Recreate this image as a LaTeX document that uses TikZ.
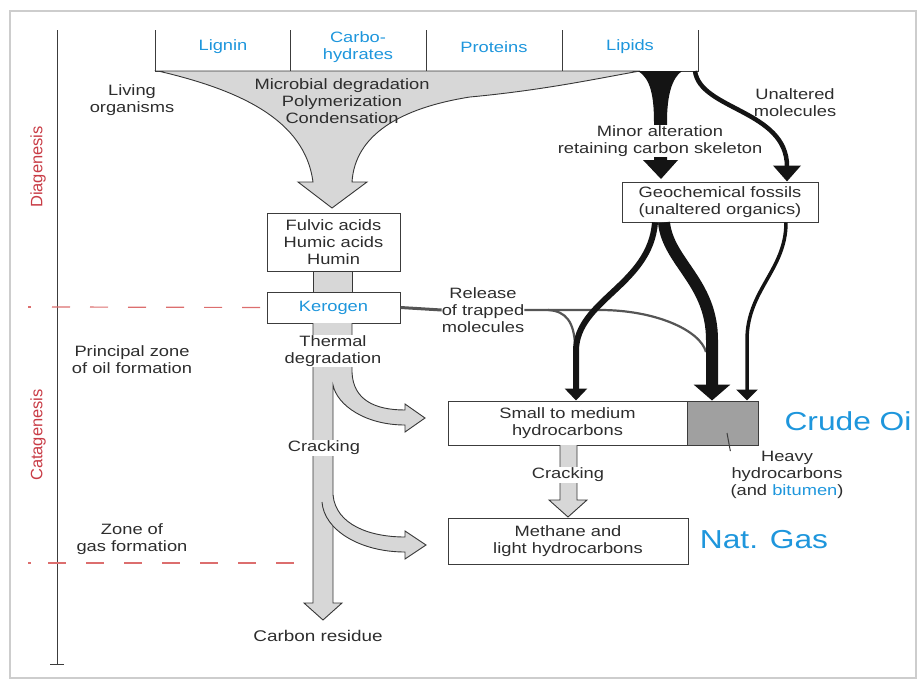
\documentclass[tikz,border=0pt]{standalone}
\usepackage{fontspec}
\setmainfont{Liberation Sans}[FakeStretch=1.22]
\newfontfamily\rotfont{Liberation Sans}
\usetikzlibrary{arrows.meta,calc}
\definecolor{myblue}{RGB}{30,150,220}
\definecolor{myred}{RGB}{200,60,70}
\definecolor{dashred}{RGB}{220,110,110}
\definecolor{txtgray}{RGB}{45,45,45}
\definecolor{boxgray}{RGB}{60,60,60}
\definecolor{shaftgray}{RGB}{215,215,215}
\definecolor{outgray}{RGB}{55,55,55}
\definecolor{relgray}{RGB}{85,85,85}
\definecolor{heavygray}{RGB}{160,160,160}
\definecolor{framegray}{RGB}{205,205,205}
\begin{document}
\begin{tikzpicture}[x=1pt,y=-1pt,
  txt/.style={font=\fontsize{15}{17}\selectfont, text=txtgray, align=center, inner sep=0pt},
  bluetxt/.style={font=\fontsize{15}{17}\selectfont, text=myblue, align=center, inner sep=0pt},
  bigblue/.style={font=\fontsize{26}{30}\selectfont, text=myblue, inner sep=0pt},
  box/.style={draw=boxgray, line width=1pt, fill=white, inner sep=0pt, align=center, font=\fontsize{15}{17}\selectfont, text=txtgray},
  wtxt/.style={txt, fill=white, inner sep=1pt},
  gfill/.style={fill=shaftgray},
  gline/.style={draw=outgray, line width=0.9pt, line join=miter},
  rotlab/.style={rotate=90, font=\rotfont\fontsize{16.5}{18}\selectfont, text=myred, inner sep=0pt},
  redash/.style={draw=dashred, line width=1.2pt, dash pattern=on 18pt off 20pt},
  blk/.style={draw=black!92, line cap=butt},
]
\useasboundingbox (0,0) rectangle (919,680);
% frame
\draw[framegray, line width=1.3pt] (10,11) rectangle (916,678);

% axis
\draw[boxgray, line width=1pt, -{Bar[width=14pt]}] (57,30) -- (57,665);
\node[rotlab] (dia) at (38,167) {Diagenesis};
\node[rotlab] (cata) at (38,435) {Catagenesis};

% top table
\draw[boxgray, line width=1pt] (155,30) -- (155,71) -- (698,71) -- (698,30);
\draw[boxgray, line width=1pt] (290,30) -- (290,71) (426,30) -- (426,71) (562,30) -- (562,71);
\node[bluetxt] (lignin) at (223,47) {Lignin};
\node[bluetxt] (carbo) at (358,47) {Carbo-\\hydrates};
\node[bluetxt] (prot) at (494,47) {Proteins};
\node[bluetxt] (lipids) at (630,47) {Lipids};

% gray funnel
\filldraw[gfill, gline] (158,71) .. controls (240,90) and (305,120) .. (313,182) -- (298,182) -- (332,208) -- (367,182) -- (352,182) .. controls (355,135) and (400,108) .. (470,97) .. controls (545,90) and (600,78) .. (640,71) -- cycle;
\node[txt] (micro) at (342,101) {Microbial degradation\\Polymerization\\Condensation};
\node[txt] (living) at (132,100) {Living\\organisms};

% boxes left column
\node[box, minimum width=133pt, minimum height=58pt] (fulvic) at (333.5,242) {Fulvic acids\\Humic acids\\Humin};
\filldraw[gfill, gline] (313,271) rectangle (352,292);
\node[box, minimum width=133pt, minimum height=31pt, text=myblue] (kerogen) at (333.5,307.5) {Kerogen};

% lower shaft with first branch
\fill[gfill] (313,323) -- (352,323) -- (352,372) .. controls (353,400) and (375,410) .. (405,410) -- (405,404) -- (425,418) -- (405,432) -- (405,425) .. controls (365,425) and (337,405) .. (333,385) -- (333,603) -- (342,603) -- (323,620) -- (304,603) -- (313,603) -- cycle;
\draw[gline] (352,323) -- (352,372) .. controls (353,400) and (375,410) .. (405,410) -- (405,404) -- (425,418) -- (405,432) -- (405,425) .. controls (365,425) and (337,405) .. (333,385) -- (333,603) -- (342,603) -- (323,620) -- (304,603) -- (313,603) -- (313,323);
% second branch
\fill[gfill] (333,495) .. controls (336,525) and (370,537) .. (405,537) -- (405,531) -- (426,545) -- (405,559) -- (405,552) .. controls (360,552) and (324,530) .. (322,502) -- cycle;
\draw[gline] (333,495) .. controls (336,525) and (370,537) .. (405,537) -- (405,531) -- (426,545) -- (405,559) -- (405,552) .. controls (360,552) and (324,530) .. (322,502);

\node[wtxt] (thermal) at (333,351) {Thermal\\degradation};
\node[wtxt] (crack1) at (324,448) {Cracking};
\node[txt, font=\fontsize{15.5}{17}\selectfont] (carbres) at (318,636) {Carbon residue};

% zone labels
\node[txt] (oilzone) at (132,360) {Principal zone\\of oil formation};
\node[txt] (gaszone) at (132,539) {Zone of\\gas formation};
\draw[redash] (52,307) -- (kerogen.west);
\draw[dashred, line width=1.2pt] (28,307) -- (31,307);
\draw[redash] (48,563) -- (300,563);
\draw[dashred, line width=1.2pt] (28,563) -- (31,563);

% right boxes
\node[box, minimum width=196pt, minimum height=40pt] (geo) at (720,202) {Geochemical fossils\\(unaltered organics)};
\node[box, minimum width=239pt, minimum height=44pt] (small) at (567.5,423) {Small to medium\\hydrocarbons};
\node[box, minimum width=71pt, minimum height=44pt, fill=heavygray] (heavy) at (722.5,423) {};
\node[box, minimum width=240pt, minimum height=46pt] (methane) at (568,541) {Methane and\\light hydrocarbons};

% cracking arrow between small and methane
\filldraw[gfill, gline] (560,445) -- (560,500) -- (549,500) -- (568,517) -- (587,500) -- (577,500) -- (577,445);
\node[wtxt] (crack2) at (568,475) {Cracking};

\node[bigblue] (crude) at (848,421) {Crude Oi};
\node[bigblue] (natgas) at (764,540) {Nat. Gas};
\node[txt] (heavylab) at (787,475) {Heavy\\hydrocarbons\\(and \textcolor{myblue}{bitumen})};
\draw[boxgray, line width=1pt] (727,433) -- (heavylab.north west);

% release of trapped molecules
\node[txt] (release) at (483,310) {Release\\of trapped\\molecules};
\draw[relgray, line width=3pt] (kerogen.east) -- (release.west);
\coordinate (relsplit) at (548,310);
\draw[relgray, line width=2.2pt] (release.east) -- (600,310) .. controls (655,310) and (700,330) .. (706,352);
\draw[relgray, line width=2.2pt] (relsplit) .. controls (566,311) and (574,322) .. (575,345);

% lipids funnel
\fill[black!92] (638,71) .. controls (650,78) and (654,95) .. (654,122) -- (654,160) -- (643,160) -- (661,179) -- (678,160) -- (667,160) -- (667,122) .. controls (667,95) and (672,78) .. (682,71) -- cycle;
\node[wtxt] (minor) at (660,141) {Minor alteration\\retaining carbon skeleton};
\node[txt] (unalt) at (795,103) {Unaltered\\molecules};
\draw[blk, line width=4.5pt, -{Triangle[width=27pt,length=16pt]}] (695,71) .. controls (700,110) and (787,110) .. (787,0 |- geo.north);

% geo fossils branches
\draw[blk, line width=6pt, -{Triangle[width=22pt,length=12pt]}] (655,0 |- geo.south) .. controls (650,285) and (577,300) .. (576,350) -- (576,0 |- small.north);
\draw[blk, line width=12pt, -{Triangle[width=36pt,length=16pt]}] (664,0 |- geo.south) .. controls (668,262) and (712,282) .. (712,340) -- (712,0 |- heavy.north);
\draw[blk, line width=3.5pt, -{Triangle[width=21pt,length=11pt]}] (786,0 |- geo.south) .. controls (786,270) and (747,290) .. (747,340) -- (747,0 |- heavy.north);
\end{tikzpicture}
\end{document}
